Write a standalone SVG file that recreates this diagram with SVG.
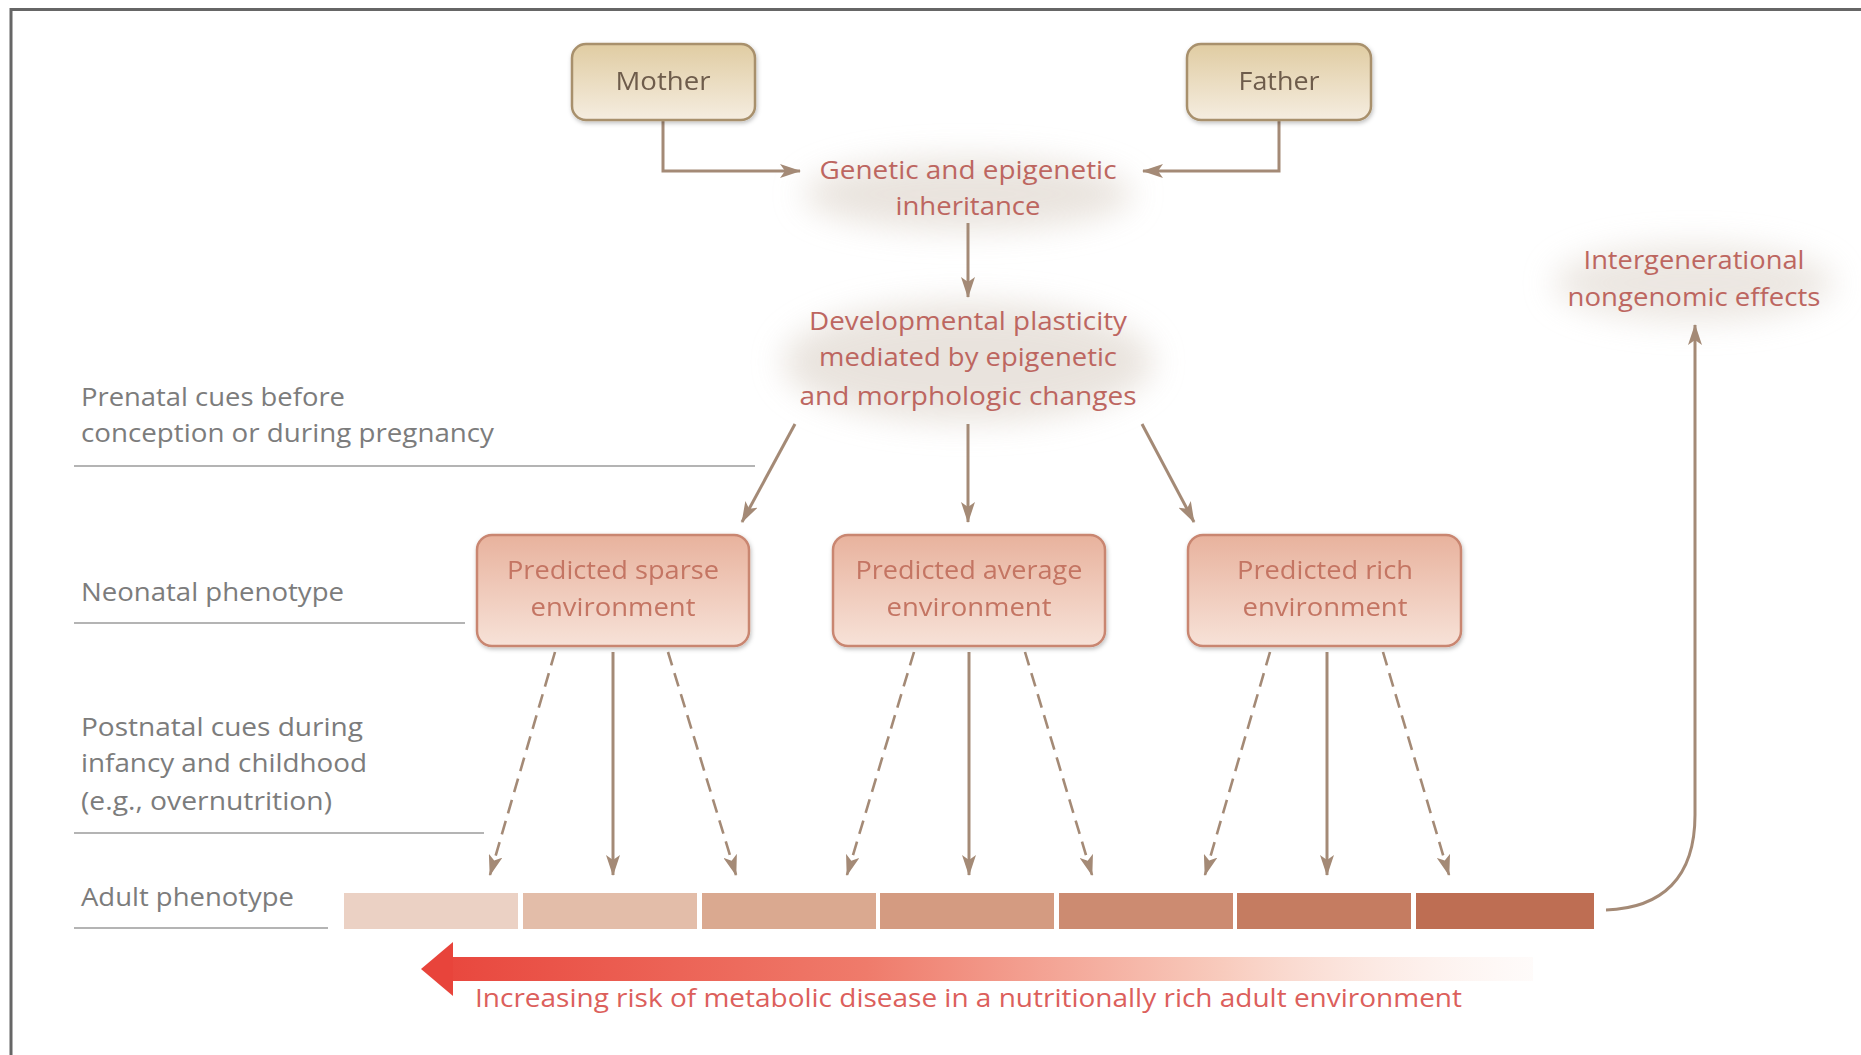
<svg xmlns="http://www.w3.org/2000/svg" width="1861" height="1055" viewBox="0 0 1861 1055">
<style>
text{font-family:"Open Sans","Liberation Sans",sans-serif;font-size:26px}
.lab{fill:#7c7c7c}
.red{fill:#bd6660;text-anchor:middle}
.par{fill:#6e5c4c;text-anchor:middle}
.env{fill:#c47563;text-anchor:middle}
.risk{fill:#dc5f5c}
.rule{stroke:#b4b4b4;stroke-width:2;fill:none}
.con{stroke:#a48a76;stroke-width:3;fill:none;marker-end:url(#ah)}
.dash{stroke:#a48a76;stroke-width:2.6;fill:none;stroke-dasharray:14 8;marker-end:url(#ah)}
.pbox{fill:url(#gPar);stroke:#a8906c;stroke-width:2.5}
.ebox{fill:url(#gEnv);stroke:#c98671;stroke-width:2.5}
.glow{fill:#e4ddd5;filter:url(#blur)}
</style>
<defs>
<marker id="ah" markerUnits="userSpaceOnUse" markerWidth="24" markerHeight="14" refX="20" refY="7" orient="auto">
<path d="M0,0 L21,7 L0,14 L5,7 Z" fill="#a48a76"/>
</marker>
<linearGradient id="gPar" x1="0" y1="0" x2="0" y2="1">
<stop offset="0" stop-color="#e0cca2"/>
<stop offset="1" stop-color="#f5ede0"/>
</linearGradient>
<linearGradient id="gEnv" x1="0" y1="0" x2="0" y2="1">
<stop offset="0" stop-color="#e8b29d"/>
<stop offset="1" stop-color="#f7e2d8"/>
</linearGradient>
<linearGradient id="gRisk" gradientUnits="userSpaceOnUse" x1="421" y1="0" x2="1535" y2="0">
<stop offset="0" stop-color="#e8443b"/>
<stop offset="0.4" stop-color="#ef7b6b"/>
<stop offset="0.72" stop-color="#f8cbbd"/>
<stop offset="1" stop-color="#fdf2ee" stop-opacity="0.3"/>
</linearGradient>
<filter id="blur" x="-30%" y="-60%" width="160%" height="220%"><feGaussianBlur stdDeviation="16"/></filter>
<filter id="sh" x="-10%" y="-10%" width="120%" height="130%"><feDropShadow dx="1" dy="2" stdDeviation="2" flood-color="#000" flood-opacity="0.25"/></filter>
</defs>
<rect width="1861" height="1055" fill="#ffffff"/>
<path d="M11,1055 V9.5 H1861" fill="none" stroke="#666" stroke-width="3"/>

<g id="glows">
<ellipse class="glow" cx="968" cy="194" rx="165" ry="36" opacity="0.8"/>
<ellipse class="glow" cx="968" cy="362" rx="185" ry="60" opacity="0.8"/>
<ellipse class="glow" cx="1694" cy="283" rx="140" ry="38" opacity="0.7"/>
</g>

<g id="row-labels">
<text class="lab" x="81" y="406" textLength="264" lengthAdjust="spacingAndGlyphs">Prenatal cues before</text>
<text class="lab" x="81" y="442" textLength="413" lengthAdjust="spacingAndGlyphs">conception or during pregnancy</text>
<path class="rule" d="M74,466 H755"/>
<text class="lab" x="81" y="601" textLength="263" lengthAdjust="spacingAndGlyphs">Neonatal phenotype</text>
<path class="rule" d="M74,623 H465"/>
<text class="lab" x="81" y="736" textLength="282" lengthAdjust="spacingAndGlyphs">Postnatal cues during</text>
<text class="lab" x="81" y="772" textLength="286" lengthAdjust="spacingAndGlyphs">infancy and childhood</text>
<text class="lab" x="81" y="810" textLength="251" lengthAdjust="spacingAndGlyphs">(e.g., overnutrition)</text>
<path class="rule" d="M74,833 H484"/>
<text class="lab" x="81" y="906" textLength="213" lengthAdjust="spacingAndGlyphs">Adult phenotype</text>
<path class="rule" d="M74,928 H328"/>
</g>

<g id="connectors">
<path class="con" d="M663,120 V171 H800"/>
<path class="con" d="M1279,120 V171 H1143"/>
<path class="con" d="M968,223 V297"/>
<path class="con" d="M795,424 L742,522"/>
<path class="con" d="M968,424 V522"/>
<path class="con" d="M1142,424 L1194,522"/>
<path class="dash" d="M555,652 L490,875"/>
<path class="con" d="M613,652 V875"/>
<path class="dash" d="M668,652 L736,875"/>
<path class="dash" d="M914,652 L847,875"/>
<path class="con" d="M969,652 V875"/>
<path class="dash" d="M1025,652 L1092,875"/>
<path class="dash" d="M1270,652 L1205,875"/>
<path class="con" d="M1327,652 V875"/>
<path class="dash" d="M1383,652 L1449,875"/>
<path class="con" d="M1606,910 C1662,908 1695,878 1695,815 V325"/>
</g>

<g id="mother" filter="url(#sh)">
<rect class="pbox" x="572" y="44" width="183" height="76" rx="14"/>
<text class="par" x="663" y="90" textLength="95" lengthAdjust="spacingAndGlyphs">Mother</text>
</g>
<g id="father" filter="url(#sh)">
<rect class="pbox" x="1187" y="44" width="184" height="76" rx="14"/>
<text class="par" x="1279" y="90" textLength="81" lengthAdjust="spacingAndGlyphs">Father</text>
</g>

<g id="inheritance">
<text class="red" x="968" y="179" textLength="297" lengthAdjust="spacingAndGlyphs">Genetic and epigenetic</text>
<text class="red" x="968" y="215" textLength="145" lengthAdjust="spacingAndGlyphs">inheritance</text>
</g>

<g id="plasticity">
<text class="red" x="968" y="330" textLength="318" lengthAdjust="spacingAndGlyphs">Developmental plasticity</text>
<text class="red" x="968" y="366" textLength="298" lengthAdjust="spacingAndGlyphs">mediated by epigenetic</text>
<text class="red" x="968" y="405" textLength="337" lengthAdjust="spacingAndGlyphs">and morphologic changes</text>
</g>

<g id="intergenerational">
<text class="red" x="1694" y="269" textLength="221" lengthAdjust="spacingAndGlyphs">Intergenerational</text>
<text class="red" x="1694" y="306" textLength="253" lengthAdjust="spacingAndGlyphs">nongenomic effects</text>
</g>

<g id="sparse" filter="url(#sh)">
<rect class="ebox" x="477" y="535" width="272" height="111" rx="15"/>
<text class="env" x="613" y="579" textLength="212" lengthAdjust="spacingAndGlyphs">Predicted sparse</text>
<text class="env" x="613" y="616" textLength="165" lengthAdjust="spacingAndGlyphs">environment</text>
</g>
<g id="average" filter="url(#sh)">
<rect class="ebox" x="833" y="535" width="272" height="111" rx="15"/>
<text class="env" x="969" y="579" textLength="227" lengthAdjust="spacingAndGlyphs">Predicted average</text>
<text class="env" x="969" y="616" textLength="165" lengthAdjust="spacingAndGlyphs">environment</text>
</g>
<g id="rich" filter="url(#sh)">
<rect class="ebox" x="1188" y="535" width="273" height="111" rx="15"/>
<text class="env" x="1325" y="579" textLength="176" lengthAdjust="spacingAndGlyphs">Predicted rich</text>
<text class="env" x="1325" y="616" textLength="165" lengthAdjust="spacingAndGlyphs">environment</text>
</g>

<g id="phenotype-bar">
<rect x="344" y="893" width="174" height="36" fill="#ebd1c4"/>
<rect x="523" y="893" width="174" height="36" fill="#e3bda9"/>
<rect x="702" y="893" width="174" height="36" fill="#daa990"/>
<rect x="880" y="893" width="174" height="36" fill="#d49b81"/>
<rect x="1059" y="893" width="174" height="36" fill="#cc8b71"/>
<rect x="1237" y="893" width="174" height="36" fill="#c57c61"/>
<rect x="1416" y="893" width="178" height="36" fill="#be6e53"/>
</g>

<g id="risk">
<rect x="450" y="957" width="1083" height="24" fill="url(#gRisk)"/>
<polygon points="421,969 453,942 453,996" fill="#e8443b"/>
<text class="risk" x="475" y="1007" textLength="987" lengthAdjust="spacingAndGlyphs">Increasing risk of metabolic disease in a nutritionally rich adult environment</text>
</g>
</svg>
